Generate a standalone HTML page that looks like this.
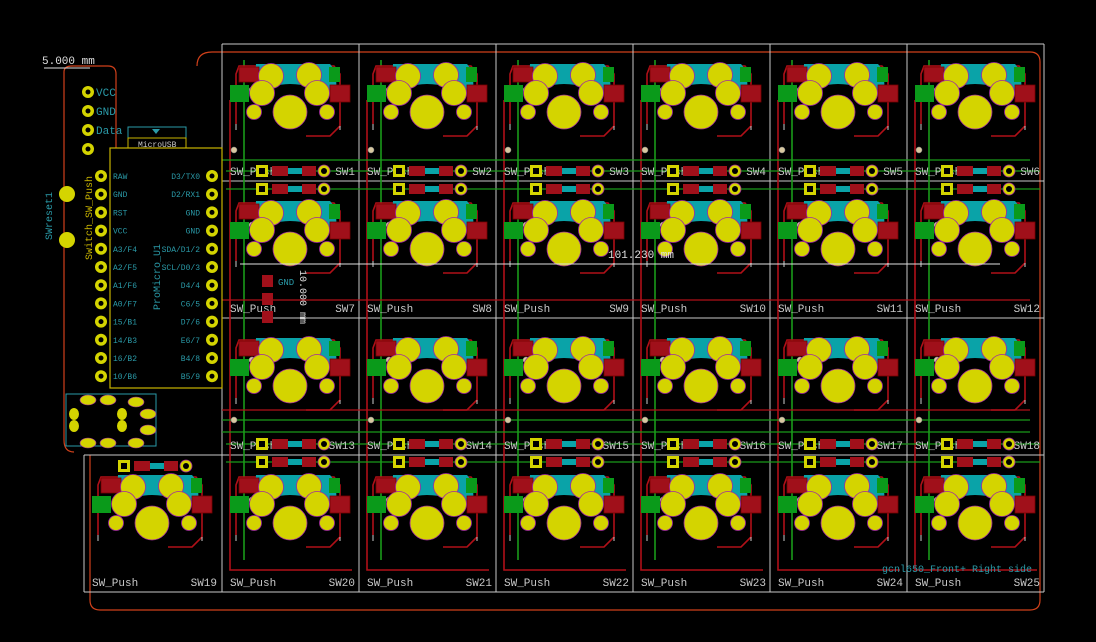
<!DOCTYPE html>
<html><head><meta charset="utf-8"><style>
html,body{margin:0;padding:0;background:#000;}
svg{display:block;}
text{font-family:"Liberation Mono","DejaVu Sans Mono",monospace;}
</style></head><body>
<svg id="pcb" width="1096" height="642" viewBox="0 0 1096 642" xmlns="http://www.w3.org/2000/svg">
<rect width="1096" height="642" fill="#000"/>
<g id="outline" fill="none" stroke="#d0401a" stroke-width="1.2">
<path d="M197,66 Q197,52 212,52 L1030,52 Q1040,52 1040,62 L1040,600 Q1040,610 1030,610 L100,610 Q90,610 90,600 L90,455"/>
<path d="M64,72 Q64,66 72,66 L108,66 Q116,66 116,74 L116,148"/>
<path d="M64,72 L64,440 Q64,452 74,452"/>
</g>
<g id="grid" stroke="#c8c8c8" stroke-width="1" fill="none"></g>
<g id="traces" fill="none" stroke-width="1.6"></g>
<g id="cells"></g>
<g id="promicro"></g>
<text x="42" y="64" fill="#e0e0e0" font-size="11">5.000 mm</text>
<line x1="44" y1="68" x2="90" y2="68" stroke="#e0e0e0"/>
<text x="608" y="258" fill="#e0e0e0" font-size="11">101.230 mm</text>
<line x1="240" y1="264" x2="1000" y2="264" stroke="#e0e0e0"/>
<text x="300" y="270" fill="#e0e0e0" font-size="10" transform="rotate(90 300 270)">10.000 mm</text>
<text x="882" y="572" fill="#2a9aa8" font-size="10">gcnl650_Front+ Right side</text>
</svg>
<script>
const NS='http://www.w3.org/2000/svg';
function mk(parent,tag,attrs){const e=document.createElementNS(NS,tag);for(const k in attrs)e.setAttribute(k,attrs[k]);parent.appendChild(e);return e;}
const colX=[84,222,359,496,633,770,907,1044];
const rowY=[44,181,318,455,592];
const grid=document.getElementById('grid');
// grid lines
for(let i=1;i<colX.length;i++){const l=mk(grid,'line',{x1:colX[i],y1:44,x2:colX[i],y2:592});}
mk(grid,'line',{x1:84,y1:455,x2:84,y2:592});
rowY.forEach((y,i)=>{mk(grid,'line',{x1:i>=3?84:222,y1:y,x2:1044,y2:y});});
const tr=document.getElementById('traces');
const red='#b01018',green='#1a9a1a';
// column traces (green vertical) and row traces (red)
for(let c=1;c<7;c++){const x=colX[c];
 const g=mk(tr,'path',{d:`M${x+22},60 L${x+22},560`,stroke:green});
 const r=mk(tr,'path',{d:`M${x+8},100 L${x+8},570 L${x+130},570`,stroke:red});}
[171,189,444,462].forEach(y=>{mk(tr,'line',{x1:226,y1:y,x2:1040,y2:y,stroke:green,'stroke-width':1.2});});
[160,420,432].forEach(y=>{mk(tr,'line',{x1:222,y1:y,x2:1030,y2:y,stroke:green,'stroke-width':1.2});});
[300,410].forEach(y=>{mk(tr,'line',{x1:222,y1:y,x2:1030,y2:y,stroke:red,'stroke-width':1.2});});
const cells=document.getElementById('cells');
const swList=[];
for(let r=0;r<4;r++){for(let c=1;c<7;c++)swList.push([c,r]);if(r===2){}}
// row 3 also has col 0
const all=[];let n=1;
for(let r=0;r<4;r++){const cols=r===3?[0,1,2,3,4,5,6]:[1,2,3,4,5,6];cols.forEach(c=>all.push([c,r,n++]));}
all.forEach(([c,r,num])=>{
 const x=colX[c],y=rowY[r];
 const g=mk(cells,'g',{transform:`translate(${x},${y})`});
 
 
 mk(g,'path',{d:'M14,80 L14,30 L17,22 L112,22 L118,30 L118,82 L108,92 L84,92',fill:'none',stroke:red,'stroke-width':1.6});
 mk(g,'path',{d:'M34,20 L108,20 Q116,28 114,50 L100,52 Q90,40 68,40 Q48,40 38,52 L32,50 Z',fill:'#0aa3a8'});
 mk(g,'rect',{x:17,y:23,width:20,height:15,fill:'#a0101a',stroke:'#700','stroke-width':0.8});
 mk(g,'rect',{x:8,y:41,width:19,height:17,fill:'#0a9a1a'});
 mk(g,'rect',{x:107,y:23,width:11,height:15,fill:'#0a9a1a'});
 mk(g,'rect',{x:108,y:41,width:20,height:17,fill:'#a0101a',stroke:'#700','stroke-width':0.8});
 [[49,32,12.5],[87,31,12.5],[40,49,12.5],[95,49,12.5],[68,68,17],[32,68,7.5],[105,68,7.5]].forEach(([a,b,rr])=>mk(g,'circle',{cx:a,cy:b,r:rr,fill:'#d4d400',stroke:'#a02aa0','stroke-width':0.8}));
 mk(g,'path',{d:'M14,80 L14,86 M118,82 L118,86',stroke:'#ccc',fill:'none'});
 const t1=mk(g,'text',{x:8,y:131,fill:'#c8c8c8','font-size':11});t1.textContent='SW_Push';
 const t2=mk(g,'text',{x:133,y:131,fill:'#c8c8c8','font-size':11,'text-anchor':'end'});t2.textContent='SW'+num;
});
// diodes
function diode(x,y,i){const g=mk(cells,'g',{transform:`translate(${x},${y})`});
 
 
 mk(g,'rect',{x:-6,y:-6,width:12,height:12,fill:'#d4d400'});
 mk(g,'rect',{x:-3,y:-3,width:6,height:6,fill:'#000'});
 mk(g,'rect',{x:10,y:-5,width:16,height:10,fill:'#a0101a'});
 mk(g,'rect',{x:26,y:-3,width:14,height:6,fill:'#0aa3a8'});
 mk(g,'rect',{x:40,y:-5,width:14,height:10,fill:'#a0101a'});
 mk(g,'circle',{cx:62,cy:0,r:6,fill:'#d4d400',stroke:'#a02aa0','stroke-width':0.8});
 mk(g,'circle',{cx:62,cy:0,r:3,fill:'#000'});}
let di=0;
for(let c=1;c<7;c++){diode(colX[c]+40,171,di++);diode(colX[c]+40,189,di++);diode(colX[c]+40,444,di++);diode(colX[c]+40,462,di++);}
diode(124,466,di++);
// vias
for(let c=1;c<7;c++){[[12,90],[12,225],[12,360],[12,500],[-6,150],[-6,420]].forEach(([dx,y])=>{const v=mk(tr,'circle',{cx:colX[c]+dx+18,cy:y,r:3,fill:'#d8c8a0',stroke:'#888','stroke-width':0.5});});}
// pro micro
const pm=document.getElementById('promicro');
mk(pm,'rect',{x:110,y:148,width:112,height:240,fill:'none',stroke:'#c8b400','stroke-width':1.2});
mk(pm,'rect',{x:128,y:127,width:58,height:11,fill:'none',stroke:'#2a9aa8'});
mk(pm,'path',{d:'M152,129 L160,129 L156,134 Z',fill:'#2a9aa8'});
mk(pm,'rect',{x:128,y:138,width:58,height:10,fill:'none',stroke:'#c8b400'});
const mu=mk(pm,'text',{x:138,y:147,fill:'#c8c8c8','font-size':8});mu.textContent='MicroUSB';
const leftLabels=['RAW','GND','RST','VCC','A3/F4','A2/F5','A1/F6','A0/F7','15/B1','14/B3','16/B2','10/B6'];
const rightLabels=['D3/TX0','D2/RX1','GND','GND','SDA/D1/2','SCL/D0/3','D4/4','C6/5','D7/6','E6/7','B4/8','B5/9'];
leftLabels.forEach((s,i)=>{const y=176+i*18.2;
 mk(pm,'circle',{cx:101,cy:y,r:6,fill:'#d4d400'});mk(pm,'circle',{cx:101,cy:y,r:2.5,fill:'#000'});
 const t=mk(pm,'text',{x:113,y:y+3,fill:'#2a9aa8','font-size':8});t.textContent=s;});
rightLabels.forEach((s,i)=>{const y=176+i*18.2;
 mk(pm,'circle',{cx:212,cy:y,r:6,fill:'#d4d400'});mk(pm,'circle',{cx:212,cy:y,r:2.5,fill:'#000'});
 const t=mk(pm,'text',{x:200,y:y+3,fill:'#2a9aa8','font-size':8,'text-anchor':'end'});t.textContent=s;});
['VCC','GND','Data',''].forEach((s,i)=>{const y=92+i*19;
 mk(pm,'circle',{cx:88,cy:y,r:6,fill:'#d4d400'});mk(pm,'circle',{cx:88,cy:y,r:2.5,fill:'#000'});
 if(s){const t=mk(pm,'text',{x:96,y:y+4,fill:'#2a9aa8','font-size':11});t.textContent=s;}});
mk(pm,'circle',{cx:67,cy:194,r:8,fill:'#d4d400'});mk(pm,'circle',{cx:67,cy:240,r:8,fill:'#d4d400'});
const rt=mk(pm,'text',{x:52,y:240,fill:'#2a9aa8','font-size':10,transform:'rotate(-90 52 240)'});rt.textContent='SWreset1';
const pu=mk(pm,'text',{x:92,y:260,fill:'#c8b400','font-size':10,transform:'rotate(-90 92 260)'});pu.textContent='Switch_SW_Push';
const pr=mk(pm,'text',{x:160,y:310,fill:'#2a9aa8','font-size':10,transform:'rotate(-90 160 310)'});pr.textContent='ProMicro_U1';
// TRRS jack
mk(pm,'rect',{x:66,y:394,width:90,height:52,fill:'none',stroke:'#2a9aa8'});
[[88,400],[108,400],[88,443],[108,443],[136,402],[148,414],[148,430],[136,443]].forEach(([a,b])=>mk(pm,'ellipse',{cx:a,cy:b,rx:8,ry:5,fill:'#d4d400',stroke:'#a02aa0','stroke-width':0.6}));
[[74,414],[74,426],[122,414],[122,426]].forEach(([a,b])=>mk(pm,'ellipse',{cx:a,cy:b,rx:5,ry:6,fill:'#d4d400'}));
// small labeled pads near 260,290
[[262,281],[262,299],[262,317]].forEach(([a,b],i)=>{mk(pm,'rect',{x:a,y:b-6,width:11,height:12,fill:'#a0101a'});});
const gnd=mk(pm,'text',{x:278,y:285,fill:'#2a9aa8','font-size':9});gnd.textContent='GND';
</script>
</body></html>
